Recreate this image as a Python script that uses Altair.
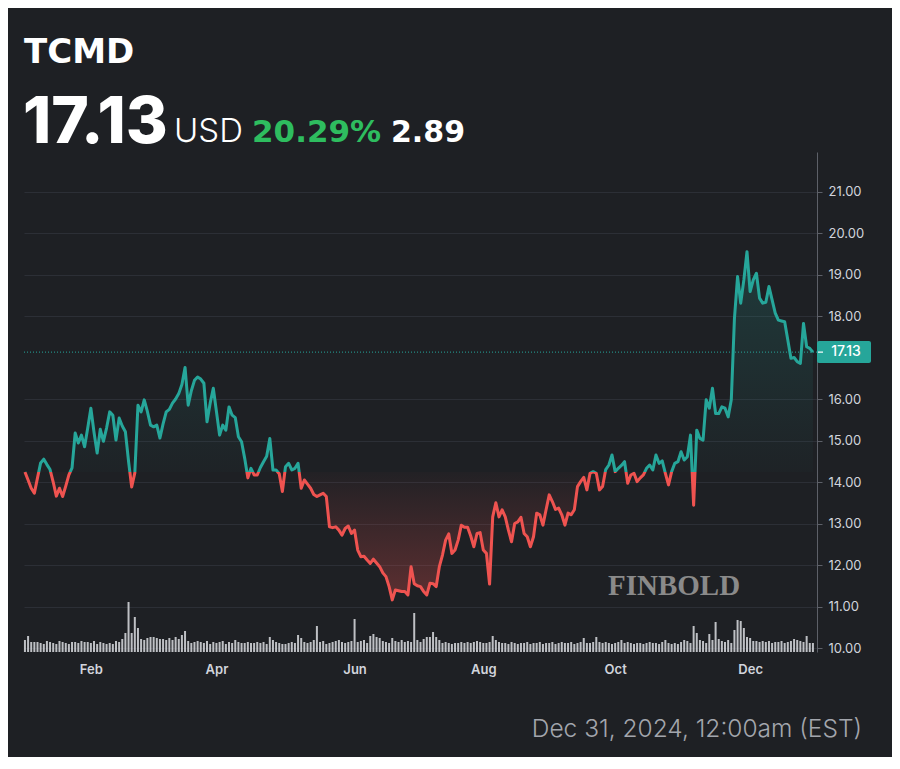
import altair as alt
import pandas as pd

# ---------------- data ----------------
ticker = "TCMD"
currency = "USD"
prev_close = 14.24
footer_text = "Dec 31, 2024, 12:00am (EST)"
watermark = "FINBOLD"

close = [
    14.24, 14.05, 13.85, 13.73, 14.10, 14.46, 14.55, 14.42, 14.30, 14.00,
    13.66, 13.85, 13.65, 13.90, 14.17, 14.34, 15.18, 14.94, 15.13, 14.85,
    15.30, 15.78, 15.20, 14.70, 15.27, 14.98, 15.30, 15.69, 15.61, 15.01,
    15.54, 15.35, 15.21, 14.50, 13.88, 14.22, 15.85, 15.69, 15.98, 15.70,
    15.37, 15.33, 15.37, 15.06, 15.40, 15.69, 15.75, 15.90, 16.00, 16.13,
    16.35, 16.76, 15.85, 16.20, 16.45, 16.53, 16.48, 16.38, 15.45, 15.90,
    16.26, 15.70, 15.13, 15.37, 15.25, 15.81, 15.61, 15.55, 15.09, 14.97,
    14.57, 14.10, 14.33, 14.17, 14.17, 14.35, 14.49, 14.62, 15.05, 14.29,
    14.29, 14.20, 13.77, 14.37, 14.45, 14.29, 14.33, 14.45, 13.85, 14.05,
    13.95, 13.85, 13.70, 13.65, 13.69, 13.73, 13.65, 12.92, 12.90, 12.92,
    12.84, 12.72, 12.88, 12.94, 12.76, 12.84, 12.36, 12.20, 12.21, 12.12,
    12.04, 12.14, 12.05, 11.96, 11.81, 11.72, 11.48, 11.16, 11.40, 11.38,
    11.36, 11.36, 11.28, 11.96, 11.55, 11.50, 11.48, 11.36, 11.28, 11.56,
    11.55, 11.48, 11.96, 12.24, 12.60, 12.75, 12.28, 12.36, 12.60, 12.96,
    12.91, 12.91, 12.70, 12.44, 12.76, 12.78, 12.36, 12.28, 11.54, 13.16,
    13.50, 13.16, 13.33, 13.16, 12.84, 12.56, 13.00, 13.04, 13.15, 12.76,
    12.68, 12.44, 12.68, 13.25, 13.21, 12.96, 13.33, 13.69, 13.53, 13.34,
    13.37, 13.21, 12.96, 13.25, 13.21, 13.33, 13.89, 14.01, 14.11, 13.81,
    14.21, 14.25, 14.21, 13.81, 13.89, 14.30, 14.41, 14.65, 14.25, 14.33,
    14.40, 14.49, 13.97, 14.17, 14.21, 14.01, 14.10, 14.17, 14.33, 14.41,
    14.29, 14.65, 14.45, 14.51, 14.21, 13.93, 14.25, 14.45, 14.49, 14.73,
    14.53, 14.61, 15.13, 13.44, 15.25, 15.05, 15.01, 15.98, 15.78, 16.26,
    15.65, 15.65, 15.81, 15.78, 15.57, 15.98, 17.94, 18.95, 18.31, 18.87,
    19.55, 18.59, 18.87, 19.03, 18.43, 18.31, 18.33, 18.71, 18.39, 18.07,
    17.90, 17.88, 17.86, 17.42, 16.98, 17.00, 16.90, 16.86, 17.82, 17.26,
    17.22, 17.13,
]

volume_k = [
    300, 400, 250, 250, 250, 225, 200, 275, 250, 225,
    200, 275, 250, 225, 200, 250, 250, 225, 275, 250,
    250, 225, 275, 200, 250, 225, 200, 225, 200, 275,
    250, 325, 475, 1250, 475, 875, 600, 325, 300, 350,
    375, 375, 350, 325, 325, 300, 350, 300, 375, 325,
    425, 525, 275, 225, 250, 275, 250, 225, 275, 200,
    250, 225, 250, 275, 200, 250, 225, 300, 250, 225,
    225, 250, 225, 225, 250, 225, 250, 200, 375, 300,
    250, 225, 200, 200, 225, 250, 225, 425, 350, 250,
    225, 250, 300, 650, 250, 275, 200, 225, 250, 275,
    300, 250, 225, 250, 275, 825, 250, 275, 300, 225,
    400, 450, 375, 350, 275, 250, 225, 350, 275, 250,
    300, 250, 275, 250, 975, 300, 250, 325, 375, 375,
    500, 375, 300, 225, 250, 225, 200, 225, 225, 250,
    225, 250, 225, 250, 275, 250, 225, 225, 250, 400,
    300, 250, 225, 225, 200, 250, 225, 200, 225, 225,
    250, 200, 225, 225, 250, 200, 225, 225, 250, 200,
    225, 250, 225, 225, 250, 200, 225, 250, 350, 225,
    225, 250, 375, 250, 225, 250, 225, 200, 225, 250,
    300, 225, 250, 225, 200, 225, 225, 200, 225, 250,
    225, 225, 200, 250, 300, 225, 200, 225, 200, 250,
    300, 275, 225, 650, 475, 300, 275, 225, 450, 300,
    750, 325, 275, 250, 300, 225, 550, 800, 775, 600,
    375, 350, 275, 275, 250, 275, 250, 275, 225, 250,
    250, 275, 225, 250, 275, 325, 300, 275, 250, 400,
    225, 225,
]

holidays = ["2024-01-01", "2024-01-15", "2024-02-19", "2024-03-29", "2024-05-27",
            "2024-06-19", "2024-07-04", "2024-09-02", "2024-11-28", "2024-12-25"]
month_names = {2: "Feb", 4: "Apr", 6: "Jun", 8: "Aug", 10: "Oct", 12: "Dec"}
price_ticks = [10, 11, 12, 13, 14, 15, 16, 18, 19, 20, 21]

# ---------------- tables ----------------
days = pd.bdate_range("2024-01-01", "2024-12-31")
days = days[~days.isin(pd.to_datetime(holidays))]
assert len(days) == len(close) == len(volume_k), (len(days), len(close), len(volume_k))

df = pd.DataFrame({"i": range(len(close)), "date": days, "close": close, "vol": volume_k})

first_idx = df.groupby(df["date"].dt.month)["i"].min()
tick_vals = [int(first_idx[m]) for m in month_names]
label_expr = " : ".join(
    f"datum.value == {int(first_idx[m])} ? '{n}'" for m, n in month_names.items()
) + " : ''"

last = close[-1]
change = last - prev_close
pct = change / prev_close * 100
last_df = pd.DataFrame({"v": [last], "label": [f"{last:.2f}"]})

# ---------------- style ----------------
BG = "#1e2024"
TEAL = "#26a69a"
RED = "#ef5350"
GREEN = "#2ebd5f"
LABEL = "#d1d4dc"
W, H = 793, 500

y_dom = [9.904, 21.952]
yscale = alt.Scale(domain=y_dom, nice=False, zero=False)
xscale = alt.Scale(domain=[-0.3, len(close) - 1 + 1.3], nice=False, zero=False, padding=0)

hi, lo = max(close), min(close)
b = (hi - prev_close) / (hi - lo)

line_grad = alt.LinearGradient(
    gradient="linear", x1=0, x2=0, y1=0, y2=1,
    stops=[alt.GradientStop(color=TEAL, offset=0), alt.GradientStop(color=TEAL, offset=b),
           alt.GradientStop(color=RED, offset=b), alt.GradientStop(color=RED, offset=1)],
)
fill_grad = alt.LinearGradient(
    gradient="linear", x1=0, x2=0, y1=0, y2=1,
    stops=[alt.GradientStop(color="rgba(38,166,154,0.20)", offset=0),
           alt.GradientStop(color="rgba(38,166,154,0.02)", offset=b),
           alt.GradientStop(color="rgba(239,83,80,0.02)", offset=b),
           alt.GradientStop(color="rgba(239,83,80,0.30)", offset=1)],
)

x_enc = alt.X("i:Q", scale=xscale, title=None,
              axis=alt.Axis(values=tick_vals, labelExpr=label_expr, grid=False, domain=False,
                            ticks=False, labelColor=LABEL, labelFontSize=13, labelFontWeight=600,
                            labelPadding=11, labelFont="Inter"))
y_axis = alt.Axis(orient="right", values=price_ticks, format=".2f", grid=True,
                  gridColor="#2c2f36", gridWidth=1, domainColor="#5d6068", tickColor="#5d6068",
                  tickSize=5, labelColor=LABEL, labelFontSize=13, labelPadding=6,
                  labelFont="Inter", title=None)

area = alt.Chart(df).mark_area(color=fill_grad).encode(
    x=x_enc, y=alt.Y("close:Q", scale=yscale, axis=y_axis), y2=alt.datum(prev_close))
line = alt.Chart(df).mark_line(stroke=line_grad, strokeWidth=3, strokeJoin="round").encode(
    x=x_enc, y=alt.Y("close:Q", scale=yscale, axis=y_axis))
rule = alt.Chart(last_df).mark_rule(color=TEAL, strokeDash=[1, 2], strokeWidth=1).encode(
    y=alt.Y("v:Q", scale=yscale, axis=y_axis))
box = alt.Chart(last_df).mark_rect(color=TEAL, cornerRadius=2, yOffset=-11, y2Offset=11).encode(
    x=alt.value(W), x2=alt.value(W + 54), y=alt.Y("v:Q", scale=yscale, axis=y_axis), y2="v:Q")
box_tick = alt.Chart(last_df).mark_rule(color="white", strokeWidth=1.2).encode(
    x=alt.value(W + 1), x2=alt.value(W + 6), y=alt.Y("v:Q", scale=yscale, axis=y_axis))
box_text = alt.Chart(last_df).mark_text(color="white", fontSize=14, font="Inter", fontWeight=500,
                                        align="center", baseline="middle").encode(
    x=alt.value(W + 29), y=alt.Y("v:Q", scale=yscale, axis=y_axis), text="label:N")

price = alt.layer(area, line, rule, box, box_tick, box_text)

vol = alt.Chart(df).mark_bar(size=2, color="#cfd1d6", opacity=0.9).encode(
    x=x_enc, y=alt.Y("vol:Q", scale=alt.Scale(domain=[0, 12500]), axis=None))


def txt(s, x, y, size, weight, color, align="left", font="Inter"):
    return alt.Chart(pd.DataFrame({"t": [s]})).mark_text(
        align=align, baseline="alphabetic", fontSize=size, fontWeight=weight, color=color, font=font
    ).encode(x=alt.value(x), y=alt.value(y), text="t:N")


texts = [
    txt(ticker, 0, -89, 34, "bold", "white", font="DejaVu Sans"),
    txt(f"{last:.2f}", -1, -9, 64, 800, "white"),
    txt(currency, 150, -10, 33, 300, "white"),
    txt(f"{pct:.2f}%", 228, -10, 31, "bold", GREEN, font="DejaVu Sans"),
    txt(f"{change:.2f}", 367, -10, 30, "bold", "white", font="DejaVu Sans"),
    txt(footer_text, 838, 585, 24.5, 300, "#a3a6ad", align="right"),
    txt(watermark, 584, 443, 29, 700, "#8a8a8a", font="Liberation Serif"),
]

chart = alt.layer(vol, price, *texts).resolve_scale(y="independent").properties(
    width=W, height=H,
    autosize=alt.AutoSizeParams(type="none"),
    padding={"left": 16, "top": 144, "right": 75, "bottom": 105},
    background=BG,
).configure_view(stroke=None)

chart.save("out.html", embed_options={"renderer": "svg", "actions": False})
